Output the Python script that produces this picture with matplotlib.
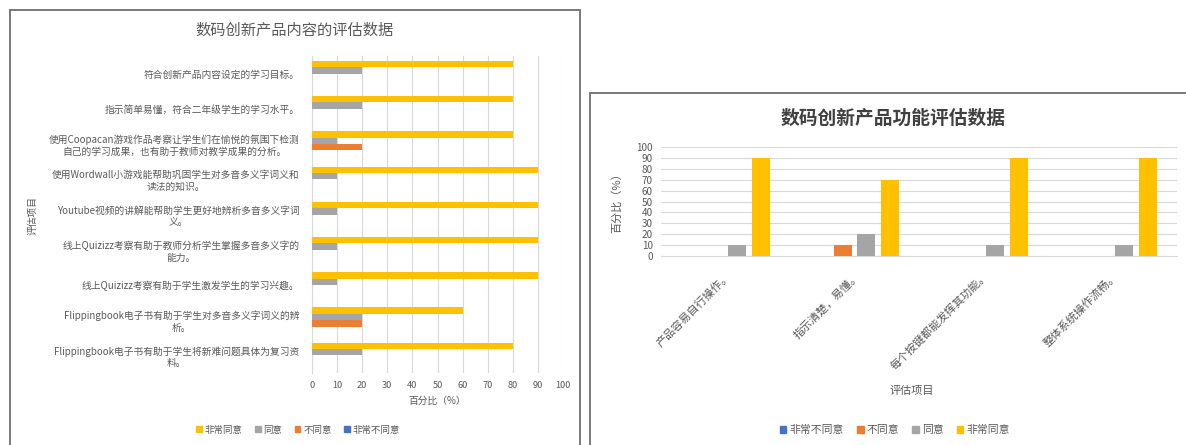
import matplotlib
matplotlib.use("Agg")
import matplotlib.pyplot as plt
from matplotlib.patches import Patch, Rectangle
import numpy as np

plt.rcParams['font.family'] = ['Noto Sans CJK SC', 'DejaVu Sans']

# === DATA: content evaluation (left, horizontal bars) ===
content_items = [
    "符合创新产品内容设定的学习目标。",
    "指示简单易懂，符合二年级学生的学习水平。",
    "使用Coopacan游戏作品考察让学生们在愉悦的氛围下检测\n自己的学习成果，也有助于教师对教学成果的分析。",
    "使用Wordwall小游戏能帮助巩固学生对多音多义字词义和\n读法的知识。",
    "Youtube视频的讲解能帮助学生更好地辨析多音多义字词\n义。",
    "线上Quizizz考察有助于教师分析学生掌握多音多义字的\n能力。",
    "线上Quizizz考察有助于学生激发学生的学习兴趣。",
    "Flippingbook电子书有助于学生对多音多义字词义的辨\n析。",
    "Flippingbook电子书有助于学生将新难问题具体为复习资\n料。",
]
content_very_agree = [80, 80, 80, 90, 90, 90, 90, 60, 80]
content_agree = [20, 20, 10, 10, 10, 10, 10, 20, 20]
content_disagree = [0, 0, 20, 0, 0, 0, 0, 20, 0]
content_very_disagree = [0, 0, 0, 0, 0, 0, 0, 0, 0]

# === DATA: function evaluation (right, vertical bars) ===
function_items = ["产品容易自行操作。", "指示清楚，易懂。", "每个按键都能发挥其功能。", "整体系统操作流畅。"]
function_very_disagree = [0, 0, 0, 0]
function_disagree = [0, 10, 0, 0]
function_agree = [10, 20, 10, 10]
function_very_agree = [90, 70, 90, 90]

BLUE = "#4472C4"
ORANGE = "#ED7D31"
GRAY = "#A5A5A5"
YELLOW = "#FFC000"
TEXT = "#595959"
GRID = "#D9D9D9"

W, H = 1186, 445
fig = plt.figure(figsize=(W / 100, H / 100), dpi=100)


def px_axes(x0, y0, x1, y1):
    # axes from pixel box (top-left origin)
    return fig.add_axes([x0 / W, 1 - y1 / H, (x1 - x0) / W, (y1 - y0) / H])


# chart frames
fig.patches.append(Rectangle((10 / W, -0.02), 570 / W, 1 - 10 / H + 0.02,
                             transform=fig.transFigure, fill=False,
                             edgecolor="#6E6E6E", lw=1.3))
fig.patches.append(Rectangle((590 / W, -0.02), 600 / W, 1 - 93 / H + 0.02,
                             transform=fig.transFigure, fill=False,
                             edgecolor="#6E6E6E", lw=1.3))

# === LEFT CHART ===
ax1 = px_axes(312, 56, 563, 373)
y = np.arange(len(content_items))
h = 0.18
ax1.barh(y - 1.5 * h, content_very_agree, height=h, color=YELLOW, zorder=3)
ax1.barh(y - 0.5 * h, content_agree, height=h, color=GRAY, zorder=3)
ax1.barh(y + 0.5 * h, content_disagree, height=h, color=ORANGE, zorder=3)
ax1.barh(y + 1.5 * h, content_very_disagree, height=h, color=BLUE, zorder=3)
ax1.set_ylim(len(content_items) - 0.5, -0.5)
ax1.set_xlim(0, 100)
ax1.set_xticks(np.arange(0, 101, 10))
ax1.set_yticks(y)
ax1.set_yticklabels(content_items)
for lbl in ax1.get_yticklabels():
    lbl.set_multialignment("center")
ax1.tick_params(axis="y", length=0, labelsize=7.0, colors=TEXT, pad=9)
ax1.tick_params(axis="x", length=0, labelsize=6.6, colors=TEXT, pad=6)
ax1.grid(axis="x", color=GRID, lw=0.8, zorder=0)
for s in ["top", "right", "bottom"]:
    ax1.spines[s].set_visible(False)
ax1.spines["left"].set_color(GRID)
ax1.set_xlabel("百分比（%）", fontsize=7, color=TEXT, labelpad=4)
fig.text(33 / W, 1 - 215 / H, "评估项目", rotation=90, fontsize=7,
         color=TEXT, ha="center", va="center")
fig.text(295 / W, 1 - 30 / H, "数码创新产品内容的评估数据", fontsize=11,
         color=TEXT, ha="center", va="center")
fig.legend(handles=[Patch(color=YELLOW, label="非常同意"),
                    Patch(color=GRAY, label="同意"),
                    Patch(color=ORANGE, label="不同意"),
                    Patch(color=BLUE, label="非常不同意")],
           loc="center", bbox_to_anchor=(298 / W, 1 - 430 / H), ncol=4,
           frameon=False, fontsize=6.8, handlelength=0.6, handleheight=0.6,
           handletextpad=0.3, columnspacing=1.3, labelcolor=TEXT)

# === RIGHT CHART ===
ax2 = px_axes(661, 147, 1177, 256)
x = np.arange(len(function_items))
step = 0.185
bw = 0.14
ax2.bar(x - 1.5 * step, function_very_disagree, width=bw, color=BLUE, zorder=3)
ax2.bar(x - 0.5 * step, function_disagree, width=bw, color=ORANGE, zorder=3)
ax2.bar(x + 0.5 * step, function_agree, width=bw, color=GRAY, zorder=3)
ax2.bar(x + 1.5 * step, function_very_agree, width=bw, color=YELLOW, zorder=3)
ax2.set_xlim(-0.5, len(function_items) - 0.5)
ax2.set_ylim(0, 100)
ax2.set_yticks(np.arange(0, 101, 10))
ax2.set_xticks(x)
ax2.set_xticklabels(function_items, rotation=45, ha="right", va="top",
                    rotation_mode="anchor")
ax2.tick_params(axis="both", length=0, colors=TEXT)
ax2.tick_params(axis="y", labelsize=7.2, pad=6)
ax2.tick_params(axis="x", labelsize=8, pad=10)
ax2.grid(axis="y", color=GRID, lw=0.8, zorder=0)
for s in ["top", "right", "left"]:
    ax2.spines[s].set_visible(False)
ax2.spines["bottom"].set_color(GRID)
fig.text(617 / W, 1 - 200 / H, "百分比（%）", rotation=90, fontsize=8,
         color=TEXT, ha="center", va="center")
fig.text(912 / W, 1 - 391 / H, "评估项目", fontsize=8,
         color=TEXT, ha="center", va="center")
fig.text(893 / W, 1 - 118 / H, "数码创新产品功能评估数据", fontsize=13.5,
         fontweight="bold", color="#404040", ha="center", va="center")
fig.legend(handles=[Patch(color=BLUE, label="非常不同意"),
                    Patch(color=ORANGE, label="不同意"),
                    Patch(color=GRAY, label="同意"),
                    Patch(color=YELLOW, label="非常同意")],
           loc="center", bbox_to_anchor=(895 / W, 1 - 430 / H), ncol=4,
           frameon=False, fontsize=7.8, handlelength=0.6, handleheight=0.6,
           handletextpad=0.3, columnspacing=1.2, labelcolor=TEXT)

fig.savefig("out.png", dpi=100, facecolor="white")
